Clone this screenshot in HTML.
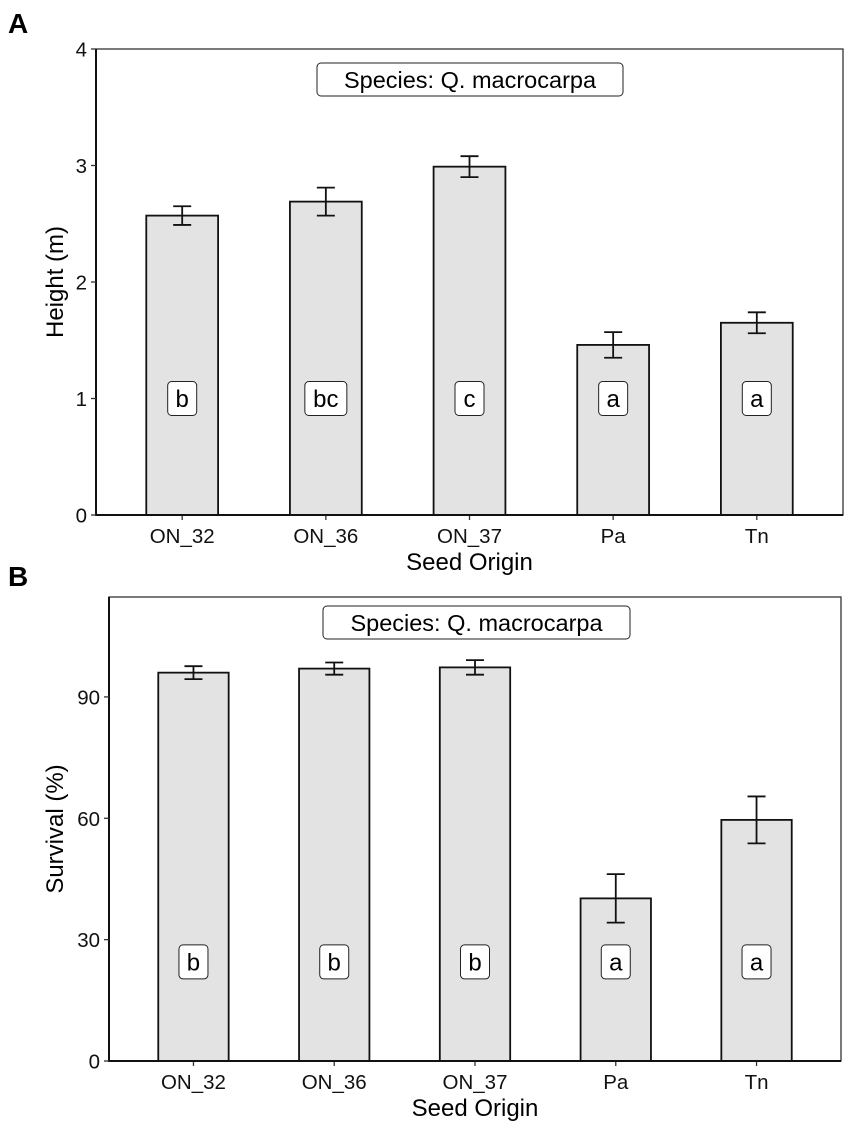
<!DOCTYPE html>
<html><head><meta charset="utf-8"><style>
body{margin:0;background:#fff;}
svg{display:block;font-family:"Liberation Sans",Arial,sans-serif;}
</style></head><body>
<svg id="fig" width="851" height="1130" viewBox="0 0 851 1130"></svg>
<script>
const categories = ["ON_32","ON_36","ON_37","Pa","Tn"];
const heightVals = [2.57, 2.69, 2.99, 1.46, 1.65];
const heightErr = [0.08, 0.12, 0.09, 0.11, 0.09];
const heightLetters = ["b","bc","c","a","a"];
const heightTicks = [0,1,2,3,4];
const survVals = [96.0, 97.0, 97.3, 40.2, 59.6];
const survErr = [1.6, 1.5, 1.8, 6.0, 5.8];
const survLetters = ["b","b","b","a","a"];
const survTicks = [0,30,60,90];

const svg = document.getElementById('fig');
const NS = 'http://www.w3.org/2000/svg';
function mk(tag, attrs, text){
  const e = document.createElementNS(NS, tag);
  for (const k in attrs) e.setAttribute(k, attrs[k]);
  if (text !== undefined) e.textContent = text;
  svg.appendChild(e);
  return e;
}

function panel(p){
  const xs = i => p.left + (0.6 + i) * (p.right - p.left) / 5.2;
  const bw = 0.5 * (p.right - p.left) / 5.2;
  const ys = v => p.bottom - (v - 0) / (p.ymax) * (p.bottom - p.top);
  let t = mk('text',{x:8,y:p.tagY,'font-size':28,'font-weight':'bold'},p.tag);
  
  
  let r = mk('rect',{x:p.left,y:p.top,width:p.right-p.left,height:p.bottom-p.top,fill:'#fff',stroke:'#333','stroke-width':1.3});
  
  
  p.vals.forEach((v,i)=>{
    const b = mk('rect',{x:xs(i)-bw/2,y:ys(v),width:bw,height:p.bottom-ys(v),fill:'#e3e3e3',stroke:'#111','stroke-width':1.8});
    
    
    const hi = ys(v + p.err[i]), lo = ys(v - p.err[i]), cx = xs(i);
    const eb = mk('path',{d:`M${cx-9},${hi}H${cx+9}M${cx},${hi}V${lo}M${cx-9},${lo}H${cx+9}`,stroke:'#111','stroke-width':1.8,fill:'none'});
    
    
    const L = p.letters[i], w = 16 + L.length * 13, ly = ys(p.letterY);
    const lb = mk('rect',{x:cx-w/2,y:ly-17,width:w,height:34,rx:4,fill:'#fff',stroke:'#222','stroke-width':1});
    
    
    const lt = mk('text',{x:cx,y:ly+8.5,'font-size':24,'text-anchor':'middle'},L);
    
    
    const tk = mk('line',{x1:cx,x2:cx,y1:p.bottom,y2:p.bottom+5,stroke:'#333','stroke-width':1.3});
    
    
    const xl = mk('text',{x:cx,y:p.bottom+28,'font-size':20.5,'text-anchor':'middle',fill:'#111'},categories[i]);
    
    
  });
  const ax = mk('path',{d:`M${p.left},${p.top}V${p.bottom}H${p.right}`,stroke:'#111','stroke-width':2,fill:'none'});
  
  
  p.ticks.forEach(tv=>{
    const y = ys(tv);
    const tk = mk('line',{x1:p.left-5,x2:p.left,y1:y,y2:y,stroke:'#333','stroke-width':1.3});
    
    
    const tl = mk('text',{x:p.left-9,y:y+7.5,'font-size':20.5,'text-anchor':'end',fill:'#111'},String(tv));
    
    
  });
  const yt = mk('text',{x:0,y:0,'font-size':24,'text-anchor':'middle',transform:`translate(${p.ytx},${(p.top+p.bottom)/2}) rotate(-90)`},p.ytitle);
  
  
  const xt = mk('text',{x:(p.left+p.right)/2,y:p.bottom+55,'font-size':24,'text-anchor':'middle'},'Seed Origin');
  
  
  const sb = mk('rect',{x:p.sbx,y:p.sby,width:p.sbw,height:33,rx:4,fill:'#fff',stroke:'#222','stroke-width':1});
  
  
  const st = mk('text',{x:p.sbx+p.sbw/2,y:p.sby+25,'font-size':23.5,'text-anchor':'middle'},'Species: Q. macrocarpa');
  
  
}

panel({tag:'A',tagY:33,left:96,right:843,top:49,bottom:515,ymax:4,vals:heightVals,err:heightErr,letters:heightLetters,letterY:1,ticks:heightTicks,ytitle:'Height (m)',ytx:63,sbx:317,sby:63,sbw:306});
panel({tag:'B',tagY:586,left:109,right:841,top:597,bottom:1061,ymax:114.7,vals:survVals,err:survErr,letters:survLetters,letterY:24.5,ticks:survTicks,ytitle:'Survival (%)',ytx:63,sbx:323,sby:606,sbw:307});
</script>
</body></html>
